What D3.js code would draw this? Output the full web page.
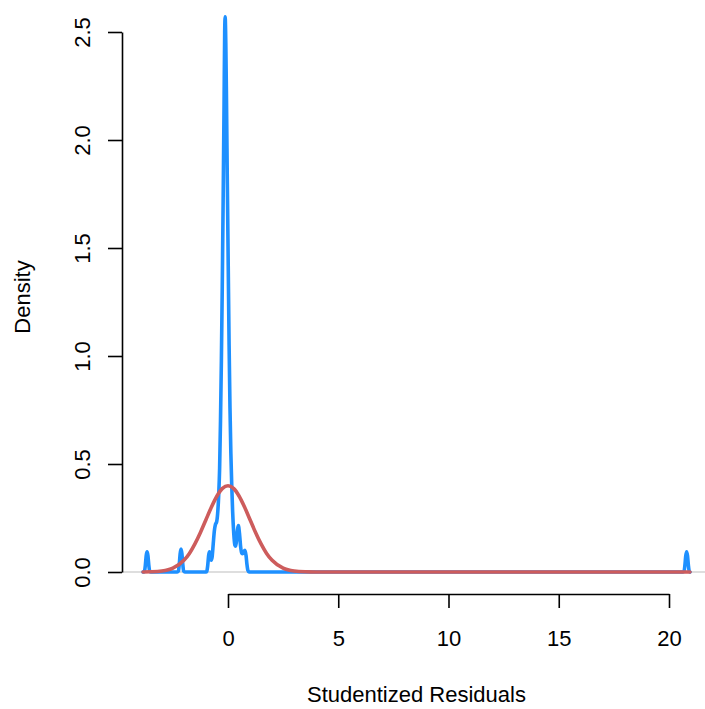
<!DOCTYPE html>
<html>
<head>
<meta charset="utf-8">
<script src="https://cdn.jsdelivr.net/npm/d3@7"></script>
<style>
  html, body { margin: 0; padding: 0; background: #ffffff; }
  svg { display: block; }
  text { font-family: "Liberation Sans", Arial, sans-serif; fill: #000; }
</style>
</head>
<body>
<svg id="chart" width="705" height="709"></svg>
<script>
// ---- data ----
const xTicks = [0, 5, 10, 15, 20];
const yTicks = [0.0, 0.5, 1.0, 1.5, 2.0, 2.5];
const xTitle = "Studentized Residuals";
const yTitle = "Density";

// kernel density of studentized residuals (blue)
const densX = [-3.85, -3.79, -3.75, -3.71, -3.67, -3.63, -3.59, -3.55, -3.50,
  -2.30, -2.25, -2.21, -2.17, -2.13, -2.09, -2.05, -2.01, -1.96,
  -1.00, -0.96, -0.92, -0.88, -0.84, -0.80, -0.76, -0.72, -0.67, -0.62, -0.57, -0.52,
  -0.47, -0.42, -0.38, -0.34, -0.30, -0.26, -0.22, -0.18, -0.15, -0.13, -0.10, -0.07,
  -0.03, 0.01, 0.05, 0.09, 0.13, 0.17, 0.21, 0.26, 0.31, 0.35, 0.39, 0.43, 0.47, 0.52,
  0.57, 0.62, 0.67, 0.72, 0.77, 0.82, 0.86, 0.90, 0.95,
  20.64, 20.68, 20.72, 20.76, 20.80, 20.84, 20.88, 20.92, 20.95];
const densY = [0, 0.003, 0.03, 0.075, 0.093, 0.075, 0.03, 0.003, 0,
  0, 0.004, 0.035, 0.085, 0.106, 0.085, 0.035, 0.004, 0,
  0, 0.004, 0.03, 0.075, 0.093, 0.08, 0.055, 0.07, 0.13, 0.19, 0.22, 0.23,
  0.27, 0.36, 0.48, 0.70, 0.98, 1.32, 1.72, 2.15, 2.50, 2.57, 2.45, 2.20,
  1.80, 1.42, 1.05, 0.76, 0.55, 0.40, 0.28, 0.18, 0.125, 0.12, 0.15, 0.195, 0.215, 0.18,
  0.12, 0.088, 0.085, 0.095, 0.10, 0.075, 0.035, 0.008, 0,
  0, 0.003, 0.03, 0.075, 0.094, 0.075, 0.03, 0.003, 0];

// standard normal reference curve (red)
const normX = [-3.85, -3.5, -3.0, -2.5, -2.0, -1.75, -1.5, -1.25, -1.0, -0.75, -0.5, -0.25,
  0, 0.25, 0.5, 0.75, 1.0, 1.25, 1.5, 1.75, 2.0, 2.5, 3.0, 3.5, 4.0, 5.0, 20.95];
const normY = [0.0002, 0.0009, 0.0044, 0.0175, 0.054, 0.086, 0.130, 0.183, 0.242, 0.301, 0.352, 0.387,
  0.399, 0.387, 0.352, 0.301, 0.242, 0.183, 0.130, 0.086, 0.054, 0.0175, 0.0044, 0.0009, 0.0001, 0, 0];

// ---- drawing ----
const svg = d3.select("#chart");
const fontSize = 22;

const x = d3.scaleLinear().domain([0, 20]).range([228, 669]);
const y = d3.scaleLinear().domain([0, 2.5]).range([572, 32]);

const plotLeft = 122, plotRight = 705, plotBottom = 594;

// horizontal reference line at zero
svg.append("line")
  .attr("x1", plotLeft).attr("x2", plotRight)
  .attr("y1", y(0)).attr("y2", y(0))
  .attr("stroke", "#bebebe").attr("stroke-width", 1.2);

const line = d3.line()
  .x(d => x(d[0]))
  .y(d => y(d[1]))
  .curve(d3.curveMonotoneX);

svg.append("path")
  .datum(densX.map((v, i) => [v, densY[i]]))
  .attr("d", line)
  .attr("fill", "none")
  .attr("stroke", "#1E90FF")
  .attr("stroke-width", 3.6)
  .attr("stroke-linejoin", "round")
  .attr("stroke-linecap", "round");

svg.append("path")
  .datum(normX.map((v, i) => [v, normY[i]]))
  .attr("d", line)
  .attr("fill", "none")
  .attr("stroke", "#CD5C5C")
  .attr("stroke-width", 3.6)
  .attr("stroke-linejoin", "round")
  .attr("stroke-linecap", "round");

// x axis
const gx = svg.append("g")
  .attr("transform", `translate(0,${plotBottom})`)
  .call(d3.axisBottom(x).tickValues(xTicks).tickSize(14).tickSizeOuter(0).tickPadding(0).tickFormat(d3.format("d")));
gx.select(".domain").attr("stroke", "#000").attr("stroke-width", 1.6);
gx.selectAll(".tick line").attr("stroke", "#000").attr("stroke-width", 1.6);
gx.selectAll(".tick text")
  .attr("y", 52).attr("dy", null)
  .style("font-family", "Liberation Sans, Arial, sans-serif")
  .style("font-size", fontSize + "px")
  .attr("fill", "#000");

// y axis
const gy = svg.append("g")
  .attr("transform", `translate(${plotLeft},0)`)
  .call(d3.axisLeft(y).tickValues(yTicks).tickSize(14).tickSizeOuter(0).tickFormat(d3.format(".1f")));
gy.select(".domain").attr("stroke", "#000").attr("stroke-width", 1.6);
gy.selectAll(".tick line").attr("stroke", "#000").attr("stroke-width", 1.6);
gy.selectAll(".tick text")
  .attr("x", null).attr("dy", null)
  .attr("transform", `translate(${90 - plotLeft},0) rotate(-90)`)
  .attr("text-anchor", "middle")
  .style("font-family", "Liberation Sans, Arial, sans-serif")
  .style("font-size", fontSize + "px")
  .attr("fill", "#000");

// titles
svg.append("text")
  .attr("x", (228 + 669) / 2 - 32).attr("y", 702)
  .attr("text-anchor", "middle")
  .style("font-size", fontSize + "px")
  .text(xTitle);

svg.append("text")
  .attr("transform", `translate(30,297) rotate(-90)`)
  .attr("text-anchor", "middle")
  .style("font-size", fontSize + "px")
  .text(yTitle);
</script>
</body>
</html>
